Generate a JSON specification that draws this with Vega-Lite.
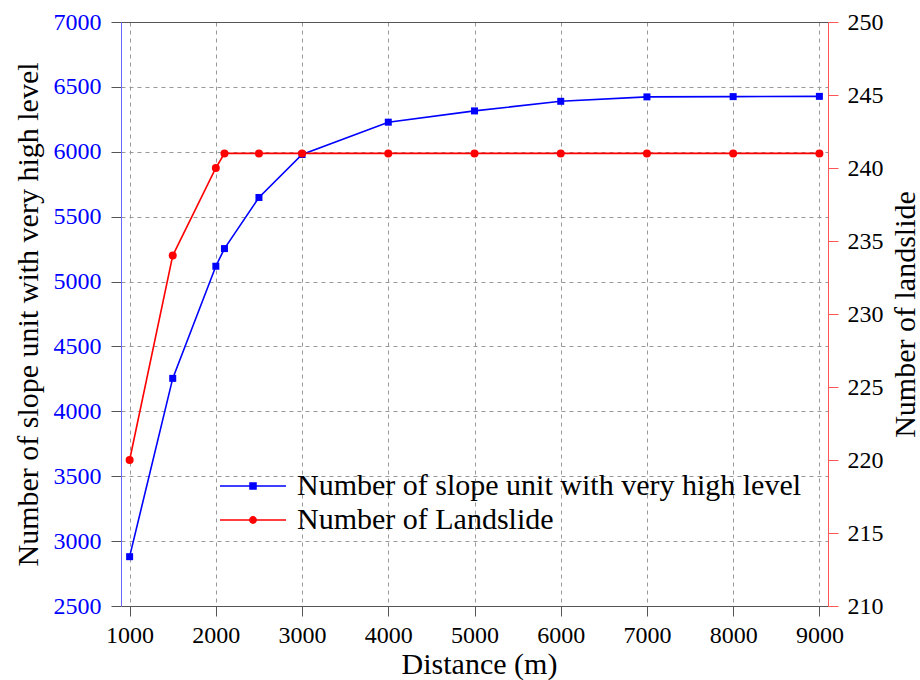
{
  "$schema": "https://vega.github.io/schema/vega-lite/v6.json",
  "width": 707,
  "height": 584,
  "autosize": "none",
  "padding": {"left": 121, "top": 22, "right": 92, "bottom": 74},
  "background": "white",
  "config": {
    "view": {"stroke": null},
    "font": "Liberation Serif",
    "axis": {
      "labelFont": "Liberation Serif",
      "titleFont": "Liberation Serif",
      "labelFontSize": 24,
      "titleFontSize": 30,
      "titleFontWeight": "normal",
      "labelColor": "#000000",
      "titleColor": "#000000",
      "tickSize": 10,
      "gridDash": [4, 4],
      "gridColor": "#999999",
      "gridWidth": 1,
      "gridOpacity": 1,
      "labelFlush": false,
      "labelOverlap": false
    }
  },
  "data": {
    "values": [
      {"Distance": 1000, "Series": "Number of slope unit with very high level", "Value": 2880},
      {"Distance": 1500, "Series": "Number of slope unit with very high level", "Value": 4254},
      {"Distance": 2000, "Series": "Number of slope unit with very high level", "Value": 5118},
      {"Distance": 2100, "Series": "Number of slope unit with very high level", "Value": 5254},
      {"Distance": 2500, "Series": "Number of slope unit with very high level", "Value": 5648},
      {"Distance": 3000, "Series": "Number of slope unit with very high level", "Value": 5979},
      {"Distance": 4000, "Series": "Number of slope unit with very high level", "Value": 6228},
      {"Distance": 5000, "Series": "Number of slope unit with very high level", "Value": 6315},
      {"Distance": 6000, "Series": "Number of slope unit with very high level", "Value": 6389},
      {"Distance": 7000, "Series": "Number of slope unit with very high level", "Value": 6423},
      {"Distance": 8000, "Series": "Number of slope unit with very high level", "Value": 6425},
      {"Distance": 9000, "Series": "Number of slope unit with very high level", "Value": 6427},
      {"Distance": 1000, "Series": "Number of Landslide", "Value": 220},
      {"Distance": 1500, "Series": "Number of Landslide", "Value": 234},
      {"Distance": 2000, "Series": "Number of Landslide", "Value": 240},
      {"Distance": 2100, "Series": "Number of Landslide", "Value": 241},
      {"Distance": 2500, "Series": "Number of Landslide", "Value": 241},
      {"Distance": 3000, "Series": "Number of Landslide", "Value": 241},
      {"Distance": 4000, "Series": "Number of Landslide", "Value": 241},
      {"Distance": 5000, "Series": "Number of Landslide", "Value": 241},
      {"Distance": 6000, "Series": "Number of Landslide", "Value": 241},
      {"Distance": 7000, "Series": "Number of Landslide", "Value": 241},
      {"Distance": 8000, "Series": "Number of Landslide", "Value": 241},
      {"Distance": 9000, "Series": "Number of Landslide", "Value": 241}
    ]
  },
  "encoding": {
    "color": {
      "field": "Series",
      "type": "nominal",
      "scale": {
        "domain": ["Number of slope unit with very high level", "Number of Landslide"],
        "range": ["#0000ff", "#ff0000"]
      },
      "legend": {
        "orient": "none",
        "legendX": 117,
        "legendY": 449,
        "title": null,
        "padding": 0,
        "labelFont": "Liberation Serif",
        "labelFontSize": 30,
        "labelColor": "#000000",
        "labelLimit": 0,
        "symbolSize": 484,
        "symbolStrokeWidth": 1.6,
        "labelOffset": 29,
        "rowPadding": 4,
        "encode": {
          "symbols": {
            "update": {
              "shape": {"signal": "datum.value === 'Number of Landslide' ? 'M-3,0H3M0.28,0A0.28,0.28 0 1,1 -0.28,0A0.28,0.28 0 1,1 0.28,0Z' : 'M-3,0H3M-0.27,-0.27H0.27V0.27H-0.27Z'"},
              "fill": {"signal": "datum.value === 'Number of Landslide' ? '#ff0000' : '#0000ff'"},
              "stroke": {"signal": "datum.value === 'Number of Landslide' ? '#ff0000' : '#0000ff'"},
              "opacity": {"value": 1},
              "fillOpacity": {"value": 1}
            }
          }
        }
      }
    }
  },
  "layer": [
    {
      "transform": [{"filter": "datum.Series === 'Number of slope unit with very high level'"}],
      "mark": {"type": "line", "strokeWidth": 1.6, "point": {"shape": "square", "size": 49, "filled": true, "opacity": 1}},
      "encoding": {
        "x": {
          "field": "Distance",
          "type": "quantitative",
          "scale": {"domain": [900, 9100], "nice": false, "zero": false},
          "axis": {
            "orient": "bottom",
            "values": [1000, 2000, 3000, 4000, 5000, 6000, 7000, 8000, 9000],
            "format": "d",
            "grid": true,
            "title": "Distance (m)",
            "labelFont": "Liberation Serif",
            "titleFont": "Liberation Serif",
            "labelFontSize": 24,
            "titleFontSize": 30,
            "labelPadding": 7,
            "titlePadding": 2,
            "titleX": 358,
            "domainColor": "#555555",
            "tickColor": "#555555"
          }
        },
        "y": {
          "field": "Value",
          "type": "quantitative",
          "scale": {"domain": [2500, 7000], "nice": false, "zero": false},
          "axis": {
            "orient": "left",
            "values": [2500, 3000, 3500, 4000, 4500, 5000, 5500, 6000, 6500, 7000],
            "format": "d",
            "grid": true,
            "title": "Number of slope unit with very high level",
            "labelFont": "Liberation Serif",
            "titleFont": "Liberation Serif",
            "labelFontSize": 24,
            "titleFontSize": 30,
            "labelColor": "#0000ff",
            "labelPadding": 10,
            "titlePadding": 10,
            "domainColor": "#6666ff",
            "tickColor": "#555555"
          }
        }
      }
    },
    {
      "transform": [{"filter": "datum.Series === 'Number of Landslide'"}],
      "mark": {"type": "line", "strokeWidth": 1.6, "point": {"shape": "circle", "size": 64, "filled": true, "opacity": 1}},
      "encoding": {
        "x": {
          "field": "Distance",
          "type": "quantitative",
          "scale": {"domain": [900, 9100], "nice": false, "zero": false},
          "axis": {
            "orient": "top",
            "labels": false,
            "ticks": false,
            "grid": false,
            "title": null,
            "domainColor": "#555555"
          }
        },
        "y": {
          "field": "Value",
          "type": "quantitative",
          "scale": {"domain": [210, 250], "nice": false, "zero": false},
          "axis": {
            "orient": "right",
            "values": [210, 215, 220, 225, 230, 235, 240, 245, 250],
            "format": "d",
            "grid": false,
            "title": "Number of landslide",
            "labelFont": "Liberation Serif",
            "titleFont": "Liberation Serif",
            "labelFontSize": 24,
            "titleFontSize": 30,
            "titleAngle": 270,
            "titleBaseline": "top",
            "labelPadding": 9,
            "titlePadding": 7,
            "domainColor": "#ff5555",
            "tickColor": "#ff5555"
          }
        }
      }
    }
  ],
  "resolve": {"scale": {"y": "independent"}, "axis": {"x": "independent"}}
}
